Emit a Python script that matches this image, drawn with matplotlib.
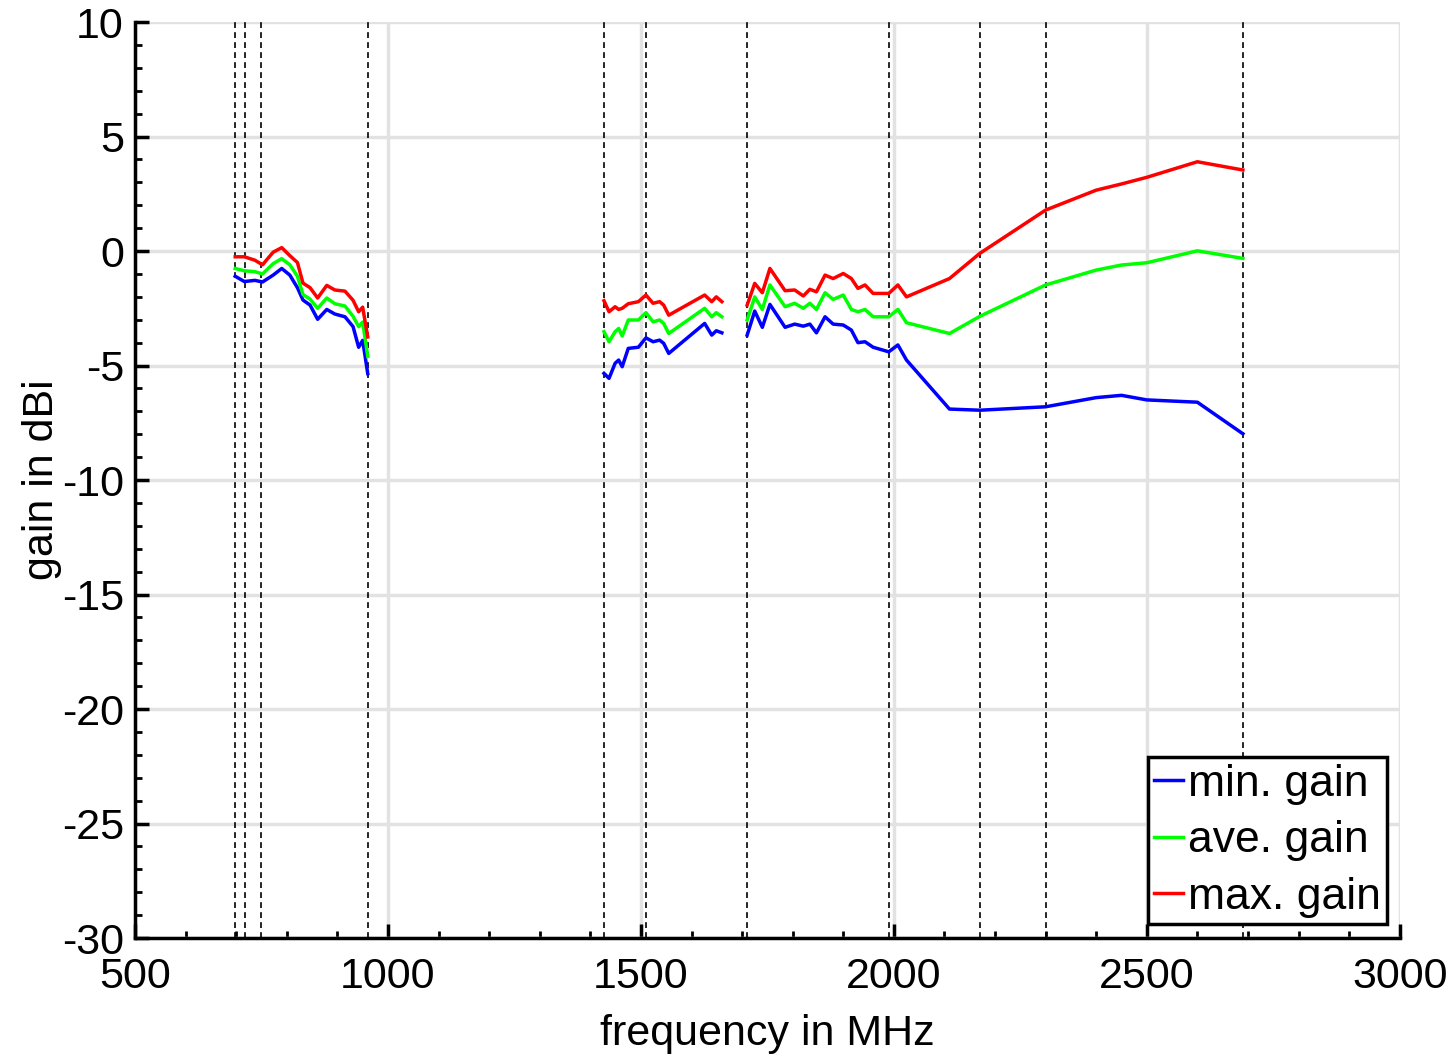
import matplotlib
matplotlib.use("Agg")
import matplotlib.pyplot as plt
from matplotlib.ticker import MultipleLocator

# band edges (dashed markers), MHz
BAND_EDGES = [698, 718, 749, 960, 1427, 1510, 1710, 1990, 2170, 2300, 2690]

# low band
f1 = [698, 716, 737, 752, 773, 790, 806, 821, 832, 846, 861, 879, 895, 915, 931, 942, 950, 960]
min1 = [-1.1, -1.33, -1.28, -1.35, -1.05, -0.76, -1.05, -1.6, -2.14, -2.36, -2.98, -2.55, -2.75, -2.87, -3.3, -4.2, -3.9, -5.35]
ave1 = [-0.76, -0.86, -0.9, -1.0, -0.55, -0.33, -0.6, -1.1, -1.9, -2.1, -2.5, -2.05, -2.3, -2.4, -2.85, -3.3, -3.1, -4.6]
max1 = [-0.25, -0.25, -0.4, -0.6, -0.05, 0.15, -0.2, -0.5, -1.4, -1.6, -2.05, -1.5, -1.7, -1.75, -2.15, -2.65, -2.45, -3.75]

# mid band
f2 = [1427, 1437, 1449, 1456, 1463, 1475, 1495, 1510, 1524, 1537, 1545, 1555, 1626, 1640, 1649, 1660]
min2 = [-5.34, -5.56, -4.9, -4.76, -5.05, -4.25, -4.2, -3.79, -3.96, -3.89, -4.03, -4.47, -3.16, -3.67, -3.48, -3.57]
ave2 = [-3.52, -3.96, -3.52, -3.38, -3.71, -3.01, -3.01, -2.69, -3.09, -3.01, -3.16, -3.6, -2.5, -2.87, -2.69, -2.87]
max2 = [-2.17, -2.65, -2.43, -2.55, -2.5, -2.3, -2.21, -1.92, -2.28, -2.21, -2.36, -2.8, -1.92, -2.21, -2.0, -2.21]

# high band
f3 = [1710, 1725, 1740, 1755, 1785, 1804, 1821, 1834, 1847, 1864, 1880, 1900, 1916, 1929,
      1943, 1959, 1990, 2008, 2025, 2110, 2170, 2300, 2400, 2450, 2500, 2600, 2690]
min3 = [-3.67, -2.62, -3.33, -2.33, -3.33, -3.19, -3.28, -3.19, -3.57, -2.87, -3.19, -3.23, -3.45, -4.0,
        -3.96, -4.2, -4.4, -4.1, -4.76, -6.9, -6.95, -6.8, -6.4, -6.3, -6.5, -6.6, -7.98]
ave3 = [-3.01, -2.0, -2.55, -1.48, -2.43, -2.28, -2.5, -2.28, -2.55, -1.82, -2.11, -1.92, -2.55, -2.65,
        -2.55, -2.87, -2.87, -2.55, -3.13, -3.6, -2.85, -1.48, -0.83, -0.61, -0.51, 0.01, -0.32]
max3 = [-2.36, -1.41, -1.82, -0.76, -1.73, -1.7, -1.96, -1.67, -1.78, -1.05, -1.2, -0.98, -1.2, -1.63,
        -1.48, -1.85, -1.85, -1.48, -2.0, -1.2, -0.1, 1.79, 2.66, 2.93, 3.22, 3.9, 3.54]

plt.rcParams["font.family"] = ["Liberation Sans", "DejaVu Sans"]
plt.rcParams["axes.unicode_minus"] = False

fig = plt.figure(figsize=(14.52, 10.56), dpi=100)
ax = fig.add_axes([0.093, 0.1117, 0.871, 0.8674])

for x in BAND_EDGES:
    ax.axvline(x, color="black", ls=(0, (3.5, 2.5)), lw=1.2, zorder=2)

lw = 2.5
for i, (f, lo, av, hi) in enumerate([(f1, min1, ave1, max1), (f2, min2, ave2, max2), (f3, min3, ave3, max3)]):
    ax.plot(f, lo, color="#0000ff", lw=lw, label="min. gain" if i == 0 else None, zorder=3)
    ax.plot(f, av, color="#00ff00", lw=lw, label="ave. gain" if i == 0 else None, zorder=3)
    ax.plot(f, hi, color="#ff0000", lw=lw, label="max. gain" if i == 0 else None, zorder=3)

ax.set_xlim(500, 3000)
ax.set_ylim(-30, 10)
ax.xaxis.set_major_locator(MultipleLocator(500))
ax.xaxis.set_minor_locator(MultipleLocator(100))
ax.yaxis.set_major_locator(MultipleLocator(5))
ax.yaxis.set_minor_locator(MultipleLocator(1))
ax.grid(True, which="major", color="#e2e2e2", lw=2.5, zorder=0)
ax.set_axisbelow(True)

for s in ["top", "right"]:
    ax.spines[s].set_visible(False)
for s in ["left", "bottom"]:
    ax.spines[s].set_linewidth(2.5)

ax.tick_params(which="major", direction="in", length=10, width=2.5, labelsize=31)
ax.tick_params(which="minor", direction="in", length=5, width=2)
ax.tick_params(axis="x", which="major", pad=14)
ax.tick_params(axis="y", which="major", pad=8)

ax.set_xlabel("frequency in MHz", fontsize=31, labelpad=12)
ax.set_ylabel("gain in dBi", fontsize=31, labelpad=0)

leg = ax.legend(loc="lower right", fontsize=32, frameon=True, fancybox=False,
                handlelength=0.65, handletextpad=0.1, borderpad=0.15, labelspacing=0.35,
                borderaxespad=0.0, bbox_to_anchor=(0.99, 0.015))
leg.get_frame().set_edgecolor("black")
leg.get_frame().set_linewidth(2.5)
leg.get_frame().set_alpha(1)

plt.savefig("out.png", dpi=100)
